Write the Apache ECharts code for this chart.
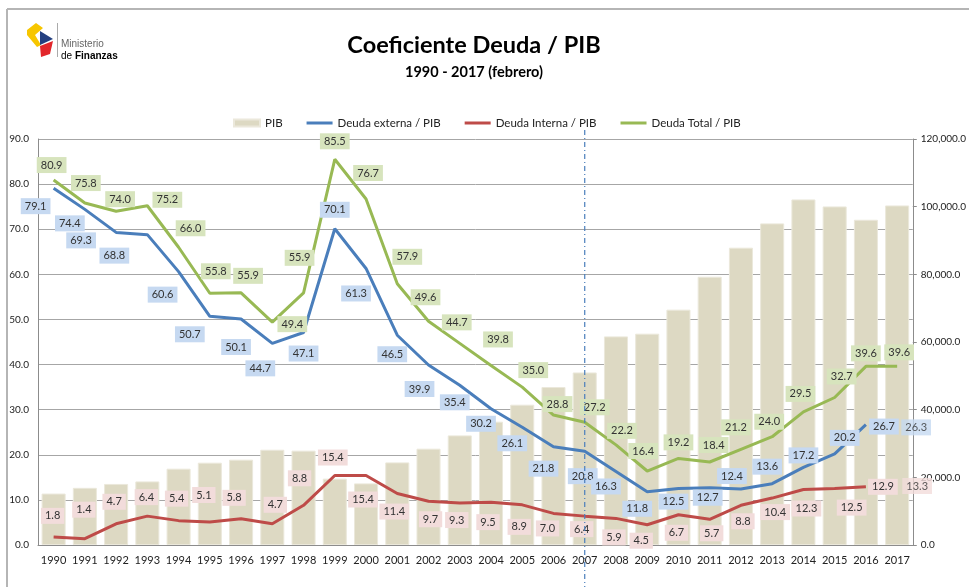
<!DOCTYPE html>
<html>
<head>
<meta charset="utf-8">
<title>Coeficiente Deuda / PIB</title>
<script src="https://cdn.jsdelivr.net/npm/echarts@6/dist/echarts.min.js"></script>
<style>
    html, body { margin: 0; padding: 0; background: #fff; }
    #main { width: 969px; height: 587px; }
</style>
</head>
<body>
<div id="main"></div>
<script>
// años del eje x
var years = ['1990', '1991', '1992', '1993', '1994', '1995', '1996', '1997', '1998', '1999',
    '2000', '2001', '2002', '2003', '2004', '2005', '2006', '2007', '2008', '2009',
    '2010', '2011', '2012', '2013', '2014', '2015', '2016', '2017'];

// PIB en millones de USD (eje derecho)
var pib = [15200, 16900, 18050, 18800, 22560, 24330, 25220, 28160, 27890, 19610,
    18210, 24420, 28470, 32400, 36450, 41470, 46700, 51000, 61660, 62460,
    69560, 79300, 87880, 95060, 102140, 100070, 96130, 100360];

// coeficientes en % del PIB
var deudaExterna = [79.1, 74.4, 69.3, 68.8, 60.6, 50.7, 50.1, 44.7, 47.1, 70.1,
    61.3, 46.5, 39.9, 35.4, 30.2, 26.1, 21.8, 20.8, 16.3, 11.8,
    12.5, 12.7, 12.4, 13.6, 17.2, 20.2, 26.7, 26.3];
var deudaInterna = [1.8, 1.4, 4.7, 6.4, 5.4, 5.1, 5.8, 4.7, 8.8, 15.4,
    15.4, 11.4, 9.7, 9.3, 9.5, 8.9, 7.0, 6.4, 5.9, 4.5,
    6.7, 5.7, 8.8, 10.4, 12.3, 12.5, 12.9, 13.3];
var deudaTotal = [80.9, 75.8, 74.0, 75.2, 66.0, 55.8, 55.9, 49.4, 55.9, 85.5,
    76.7, 57.9, 49.6, 44.7, 39.8, 35.0, 28.8, 27.2, 22.2, 16.4,
    19.2, 18.4, 21.2, 24.0, 29.5, 32.7, 39.6, 39.6];

// ejes
var leftAxis = { min: 0, max: 90, step: 10 };
var rightAxis = { min: 0, max: 120000, step: 20000 };

// desplazamiento de cada etiqueta respecto a su punto (px)
var shiftTotal = [[-2, -15], [1, -20], [4, -12], [20, -6], [12, -19], [6, -22], [7, -17], [20, 2], [-4, -35], [0, -18],
    [2, -26], [10, -27], [-3, -24], [-3, -21], [7, -26], [11, -17], [4, -11], [10, -15], [6, -14], [-4, -20],
    [0, -16], [4, -17], [-5, -22], [-3, -15], [-3, -18], [7, -21], [0, -13], [2, -14]];
var shiftExterna = [[-18, 18], [-15, 14], [-35, 8], [-33, 21], [-16, 23], [-20, 18], [-5, 28], [-12, 25], [0, 21], [0, -19],
    [-10, 25], [-5, 19], [-9, 24], [-5, 17], [-10, 15], [-10, 16], [-10, 22], [-2, 25], [-10, 15], [-10, 17],
    [-5, 13], [-2, 10], [-9, -13], [-5, -17], [0, -12], [10, -16], [18, 2], [19, 1]];
var shiftInterna = [[-1, -21], [-1, -29], [-2, -22], [-1, -19], [-2, -22], [-6, -27], [-7, -21], [3, -19], [-4, -27], [-2, -18],
    [-3, 24], [-3, 18], [2, 18], [-3, 17], [-3, 20], [-3, 22], [-6, 15], [-3, 13], [-2, 19], [-6, 16],
    [-2, 18], [2, 14], [2, 16], [3, 14], [3, 19], [17, 19], [17, 0], [20, 1]];

var FONT = 'Lato';
var colExt = '#4a7ebb', colInt = '#be4b48', colTot = '#98b954';
var lastIdx = years.length - 1;

// arma los puntos con su etiqueta; "desde/hasta" recorta la serie
function puntos(values, shifts, desde, hasta) {
    return values.map(function (v, i) {
        if (i < desde || i > hasta) return '-';
        return { value: v, label: { offset: shifts[i] } };
    });
}

function etiqueta(bg) {
    return {
        show: true,
        position: 'inside',
        fontFamily: FONT,
        fontSize: 11,
        color: '#333',
        backgroundColor: bg,
        padding: [3, 4, 2, 4],
        formatter: function (p) { return Number(p.value).toFixed(1); }
    };
}

function linea(name, values, shifts, color, bg, hasta) {
    return {
        name: name,
        type: 'line',
        yAxisIndex: 0,
        data: puntos(values, shifts, 0, hasta),
        symbol: 'circle',
        symbolSize: 0.1,
        itemStyle: { color: color },
        lineStyle: { color: color, width: 3 },
        label: etiqueta(bg),
        z: 3
    };
}

// solo la etiqueta del ultimo año (la linea termina en 2016)
function cola(values, shifts, color, bg) {
    return {
        name: 'cola',
        type: 'scatter',
        yAxisIndex: 0,
        data: puntos(values, shifts, lastIdx, lastIdx),
        symbolSize: 0.1,
        itemStyle: { color: color },
        label: etiqueta(bg),
        z: 3
    };
}

var lineIcon = 'path://M0,0L26,0L26,3L0,3Z';

var chart = echarts.init(document.getElementById('main'));

var option = {
    animation: false,
    backgroundColor: '#fff',
    textStyle: { fontFamily: FONT },
    legend: {
        left: 228,
        top: 112,
        itemWidth: 26,
        itemHeight: 7,
        itemGap: 24,
        textStyle: { fontFamily: FONT, fontSize: 11.5, color: '#222' },
        data: [
            { name: 'PIB', icon: 'rect' },
            { name: 'Deuda externa / PIB', icon: lineIcon },
            { name: 'Deuda Interna / PIB', icon: lineIcon },
            { name: 'Deuda Total / PIB', icon: lineIcon }
        ]
    },
    grid: { left: 38, right: 48, top: 139, bottom: 42 },
    xAxis: {
        type: 'category',
        data: years,
        boundaryGap: true,
        axisLine: { lineStyle: { color: '#8c8c8c', width: 1 } },
        axisTick: { show: false },
        axisLabel: { fontFamily: FONT, fontSize: 11, color: '#222', margin: 10, interval: 0 }
    },
    yAxis: [
        {
            type: 'value',
            min: leftAxis.min,
            max: leftAxis.max,
            interval: leftAxis.step,
            axisLine: { show: true, lineStyle: { color: '#8c8c8c' } },
            axisTick: { show: false },
            splitLine: { lineStyle: { color: '#a6a6a6', width: 1 } },
            axisLabel: {
                fontFamily: FONT, fontSize: 10, color: '#222', margin: 9,
                formatter: function (v) { return v.toFixed(1); }
            }
        },
        {
            type: 'value',
            min: rightAxis.min,
            max: rightAxis.max,
            interval: rightAxis.step,
            position: 'right',
            axisLine: { show: true, lineStyle: { color: '#8c8c8c' } },
            axisTick: { show: true, length: 4, lineStyle: { color: '#8c8c8c' } },
            splitLine: { show: false },
            axisLabel: {
                fontFamily: FONT, fontSize: 10, color: '#222', margin: 8,
                formatter: function (v) {
                    return v.toLocaleString('en-US', { minimumFractionDigits: 1, maximumFractionDigits: 1 });
                }
            }
        }
    ],
    series: [
        {
            name: 'PIB',
            type: 'bar',
            yAxisIndex: 1,
            data: pib,
            barCategoryGap: '23%',
            itemStyle: { color: '#ddd9c3', borderColor: '#ebe8db', borderWidth: 1 },
            z: 1
        },
        linea('Deuda externa / PIB', deudaExterna, shiftExterna, colExt, '#c6d9f1', lastIdx - 1),
        linea('Deuda Interna / PIB', deudaInterna, shiftInterna, colInt, '#f2dcdb', lastIdx - 1),
        linea('Deuda Total / PIB', deudaTotal, shiftTotal, colTot, '#d7e4bd', lastIdx),
        cola(deudaExterna, shiftExterna, colExt, '#c6d9f1'),
        cola(deudaInterna, shiftInterna, colInt, '#f2dcdb')
    ],
    graphic: [
        // marco
        { type: 'line', shape: { x1: 7, y1: 9, x2: 969, y2: 9 }, style: { stroke: '#b5b5b5', lineWidth: 2 } },
        { type: 'line', shape: { x1: 7, y1: 9, x2: 7, y2: 587 }, style: { stroke: '#b5b5b5', lineWidth: 2 } },
        // logo Ministerio de Finanzas
        { type: 'polygon', shape: { points: [[36, 23], [43, 28], [35, 35], [41, 45], [37, 47], [27, 35], [27, 30]] }, style: { fill: '#f7c600' } },
        { type: 'polygon', shape: { points: [[40, 31], [53, 39], [40, 45]] }, style: { fill: '#233f80' } },
        { type: 'polygon', shape: { points: [[40, 46], [53, 41], [50, 54], [41, 57]] }, style: { fill: '#e2262b' } },
        { type: 'line', shape: { x1: 57.5, y1: 23, x2: 57.5, y2: 57 }, style: { stroke: '#aaa', lineWidth: 1 } },
        { type: 'text', x: 61, y: 44, style: { text: 'Ministerio', font: '10px "Liberation Sans"', fill: '#666', verticalAlign: 'middle' } },
        {
            type: 'text', x: 61, y: 56,
            style: {
                text: '{a|de }{b|Finanzas}', verticalAlign: 'middle',
                rich: {
                    a: { fontFamily: 'Liberation Sans', fontSize: 10, color: '#666' },
                    b: { fontFamily: 'Liberation Sans', fontSize: 10, fontWeight: 'bold', color: '#555' }
                }
            }
        },
        // titulo
        { type: 'text', x: 474, y: 45, style: { text: 'Coeficiente Deuda / PIB', font: 'bold 23.5px Lato', fill: '#000', align: 'center', verticalAlign: 'middle' } },
        { type: 'text', x: 474, y: 72, style: { text: '1990 - 2017 (febrero)', font: 'bold 14.5px Lato', fill: '#000', align: 'center', verticalAlign: 'middle' } }
    ]
};

chart.setOption(option);

// linea vertical punteada en 2007
var x2007 = chart.convertToPixel({ xAxisIndex: 0 }, '2007');
option.graphic.push({
    type: 'line',
    z: 100,
    shape: { x1: x2007, y1: 130, x2: x2007, y2: 587 },
    style: { stroke: colExt, lineWidth: 1.2, lineDash: [5, 3, 1, 3] }
});
chart.setOption({ graphic: option.graphic });
</script>
</body>
</html>
